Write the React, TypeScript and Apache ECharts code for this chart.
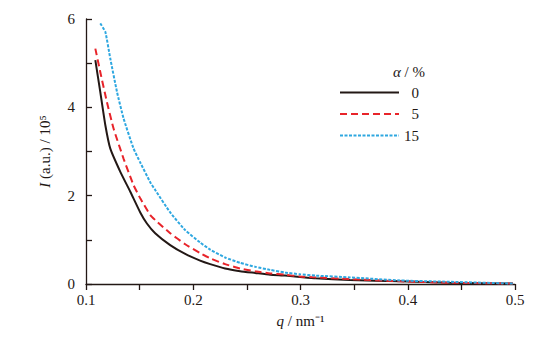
import React, { useEffect, useRef } from "react";
import * as echarts from "echarts";

const seriesNames = ["0", "5", "15"];
const qBlack = [0.1087, 0.1133, 0.118, 0.1226, 0.132, 0.1413, 0.1506, 0.1568, 0.1645, 0.1785, 0.1925, 0.2064, 0.2158, 0.2297, 0.2437, 0.2577, 0.2717, 0.2856, 0.2996, 0.314, 0.346, 0.393, 0.439, 0.498];
const iBlack = [5.07, 4.35, 3.6, 3.07, 2.54, 2.09, 1.62, 1.37, 1.15, 0.88, 0.68, 0.53, 0.45, 0.35, 0.29, 0.25, 0.21, 0.19, 0.16, 0.13, 0.09, 0.06, 0.03, 0.01];
const qRed = [0.1087, 0.1133, 0.1195, 0.1257, 0.135, 0.1443, 0.1506, 0.16, 0.1645, 0.1785, 0.1925, 0.2064, 0.2158, 0.2297, 0.2437, 0.2577, 0.2717, 0.2856, 0.2996, 0.314, 0.346, 0.393, 0.439, 0.498];
const iRed = [5.33, 4.8, 4.12, 3.52, 2.84, 2.24, 1.94, 1.56, 1.45, 1.15, 0.9, 0.7, 0.58, 0.45, 0.35, 0.29, 0.24, 0.21, 0.17, 0.15, 0.11, 0.06, 0.03, 0.01];
const qBlue = [0.1133, 0.118, 0.1226, 0.1289, 0.135, 0.1443, 0.1506, 0.16, 0.1645, 0.1785, 0.1925, 0.2064, 0.2158, 0.2297, 0.2437, 0.2577, 0.2717, 0.2856, 0.2996, 0.314, 0.346, 0.393, 0.439, 0.498];
const iBlue = [5.9, 5.71, 5.11, 4.35, 3.75, 3.07, 2.75, 2.3, 2.13, 1.62, 1.22, 0.94, 0.78, 0.6, 0.48, 0.39, 0.32, 0.26, 0.22, 0.19, 0.15, 0.08, 0.05, 0.01];
const colors = ["#231815", "#e8242a", "#2ea7e0"];
const dashes: any[] = ["solid", [7, 4], [3, 1.5]];

const FONT = "'Liberation Serif', 'Times New Roman', serif";
const INK = "#231815";

export default function App() {
  const ref = useRef<HTMLDivElement>(null);
  useEffect(() => {
    const chart = echarts.init(ref.current!, null, { renderer: "svg" });
    const qs = [qBlack, qRed, qBlue];
    const is = [iBlack, iRed, iBlue];
    chart.setOption({
      animation: false,
      textStyle: { fontFamily: FONT },
      grid: { left: 86, right: 38, top: 19, bottom: 67 },
      xAxis: {
        type: "value",
        min: 0.1,
        max: 0.5,
        interval: 0.05,
        name: "{i|q} / nm⁻¹",
        nameLocation: "middle",
        nameGap: 29,
        nameTextStyle: {
          fontFamily: FONT,
          fontSize: 15,
          color: INK,
          rich: { i: { fontStyle: "italic", fontFamily: FONT, fontSize: 15, color: INK } },
        },
        axisLine: { lineStyle: { color: INK, width: 1.3 } },
        axisTick: { show: true, inside: false, length: 6, lineStyle: { color: INK, width: 1.3 } },
        axisLabel: {
          fontFamily: FONT,
          fontSize: 15,
          color: INK,
          margin: 8,
          formatter: (v: number) => {
            const r = Math.round(v * 100);
            return r % 10 === 0 ? (r / 100).toFixed(1) : "";
          },
        },
        splitLine: { show: false },
      },
      yAxis: {
        type: "value",
        min: 0,
        max: 6,
        interval: 1,
        name: "{i|I} (a.u.) / 10⁵",
        nameLocation: "middle",
        nameGap: 34,
        nameTextStyle: {
          fontFamily: FONT,
          fontSize: 15,
          color: INK,
          rich: { i: { fontStyle: "italic", fontFamily: FONT, fontSize: 15, color: INK } },
        },
        axisLine: { show: true, lineStyle: { color: INK, width: 1.3 } },
        axisTick: { show: true, inside: true, length: 6, lineStyle: { color: INK, width: 1.3 } },
        axisLabel: {
          fontFamily: FONT,
          fontSize: 15,
          color: INK,
          margin: 11,
          formatter: (v: number) => (v % 2 === 0 ? String(v) : ""),
        },
        splitLine: { show: false },
      },
      legend: {
        orient: "vertical",
        left: 334,
        top: 80,
        itemWidth: 59,
        itemHeight: 10,
        itemGap: 6.5,
        data: seriesNames,
        itemStyle: { opacity: 0 },
        formatter: (n: string) => "{a|" + n + "}",
        textStyle: {
          fontFamily: FONT,
          fontSize: 15,
          color: INK,
          rich: { a: { width: 15, align: "right", fontFamily: FONT, fontSize: 15, color: INK } },
        },
      },
      graphic: [
        {
          type: "text",
          left: 393,
          top: 64,
          style: {
            text: "{i|α} / %",
            fontFamily: FONT,
            fontSize: 15,
            fill: INK,
            rich: { i: { fontStyle: "italic", fontFamily: FONT, fontSize: 15, fill: INK } },
          },
        },
      ],
      series: seriesNames.map((n, k) => ({
        name: n,
        type: "line",
        symbol: "none",
        smooth: 0.15,
        data: qs[k].map((q, j) => [q, is[k][j]]),
        lineStyle: { color: colors[k], width: 2, type: dashes[k] },
        itemStyle: { color: colors[k] },
      })),
    });
    return () => chart.dispose();
  }, []);
  return <div ref={ref} style={{ width: 553, height: 351, position: "absolute", left: 0, top: 0 }} />;
}
